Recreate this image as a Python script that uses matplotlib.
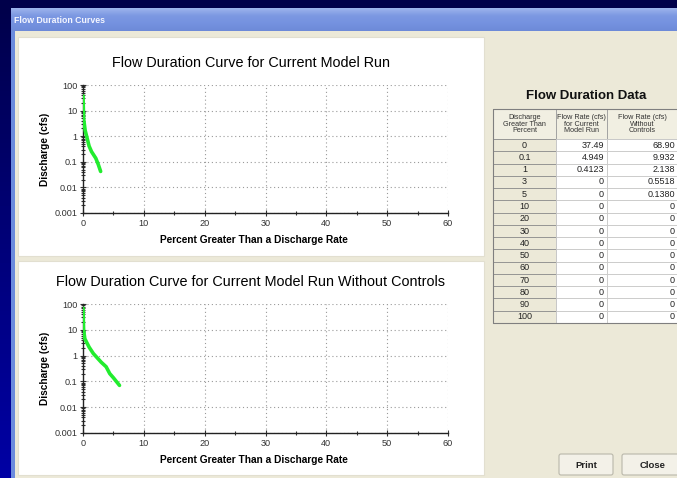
# flow duration curves window: two log-scale curves plus the data table

import numpy as np
import matplotlib.pyplot as plt
from matplotlib.patches import Rectangle, FancyBboxPatch
from matplotlib.colors import LinearSegmentedColormap
from matplotlib.ticker import FixedLocator, FuncFormatter, LogLocator, NullFormatter

plt.rcParams['font.family'] = ['Liberation Sans', 'DejaVu Sans']

# curve for the current model run
run_pct = [0, 0.1, 0.35, 1, 1.4, 2.1, 2.5, 2.9]
run_q = [37.49, 4.949, 1.7, 0.4123, 0.25, 0.138, 0.08, 0.042]

# curve for the run without controls
noctl_pct = [0, 0.1, 0.3, 1, 1.7, 3, 3.8, 4.4, 5, 6]
noctl_q = [68.90, 9.932, 4.5, 2.138, 1.2, 0.5518, 0.37, 0.2, 0.1380, 0.07]

# table contents
table_pct = ["0", "0.1", "1", "3", "5", "10", "20", "30", "40", "50",
             "60", "70", "80", "90", "100"]
table_run = [37.49, 4.949, 0.4123, 0, 0, 0, 0, 0, 0, 0, 0, 0, 0, 0, 0]
table_noctl = [68.90, 9.932, 2.138, 0.5518, 0.1380, 0, 0, 0, 0, 0, 0, 0, 0, 0, 0]
table_headers = ["Discharge\nGreater Than\nPercent",
                 "Flow Rate (cfs)\nfor Current\nModel Run",
                 "Flow Rate (cfs)\nWithout\nControls"]

W, H = 677, 478
BEIGE = "#ECE9D8"

fig = plt.figure(figsize=(W / 100, H / 100), dpi=100)

# full-figure canvas in pixel units for the window chrome
bg = fig.add_axes([0, 0, 1, 1])
bg.set_xlim(0, W)
bg.set_ylim(H, 0)
bg.axis("off")

navy = LinearSegmentedColormap.from_list("navy", ["#00004A", "#000078", "#0000A4"])
bg.imshow(np.linspace(0, 1, 100).reshape(-1, 1), cmap=navy, aspect="auto",
          extent=[0, W, H, 0], zorder=0)

# window frame and title bar
bg.add_patch(Rectangle((11, 8), W - 11, H - 8, facecolor="#6B8BDD", edgecolor="none", zorder=1))
bar = LinearSegmentedColormap.from_list("bar", ["#9DB4EC", "#7C98E2", "#7592E0", "#6D8AD8"])
bg.imshow(np.linspace(0, 1, 50).reshape(-1, 1), cmap=bar, aspect="auto",
          extent=[11, W, 31, 8], zorder=2)
bg.text(14, 20, "Flow Duration Curves", color="#F4F6FF", fontsize=6.3,
        fontweight="bold", va="center", ha="left", zorder=3)
bg.add_patch(Rectangle((15, 31), W - 15, H - 31, facecolor=BEIGE, edgecolor="none", zorder=2))

# white panels behind the two charts
for top, bottom in [(37, 256), (261, 475)]:
    bg.add_patch(Rectangle((18, top), 466, bottom - top, facecolor="white",
                           edgecolor="#E2DFD0", linewidth=0.8, zorder=3))


def fmt_val(v):
    return "0" if v == 0 else "%#.4g" % v


# data table
bg.text(586, 96, "Flow Duration Data", fontsize=9.5, fontweight="bold",
        ha="center", va="center", color="#111111", zorder=5)
col_x = [493, 556, 607, 681]
head_top, head_bot = 109, 139
row_h = (323 - head_bot) / len(table_pct)
for c in range(3):
    x0, x1 = col_x[c], col_x[c + 1]
    bg.add_patch(Rectangle((x0, head_top), x1 - x0, head_bot - head_top,
                           facecolor="#F1EFE2", edgecolor="#9D9D9D", linewidth=0.6, zorder=4))
    cx = (x0 + x1) / 2 if c < 2 else (x0 + W) / 2
    bg.text(cx, (head_top + head_bot) / 2, table_headers[c], fontsize=5.2,
            ha="center", va="center", linespacing=0.95, color="#333333", zorder=5)
for i, pct in enumerate(table_pct):
    y0 = head_bot + i * row_h
    ym = y0 + row_h / 2
    bg.add_patch(Rectangle((col_x[0], y0), col_x[1] - col_x[0], row_h,
                           facecolor=BEIGE, edgecolor="#8F8F8F", linewidth=0.6, zorder=4))
    bg.text((col_x[0] + col_x[1]) / 2, ym, pct, fontsize=6.5, ha="center",
            va="center", color="#222222", zorder=5)
    for c, vals in [(1, table_run), (2, table_noctl)]:
        x0, x1 = col_x[c], col_x[c + 1]
        bg.add_patch(Rectangle((x0, y0), x1 - x0, row_h, facecolor="white",
                               edgecolor="#C8C8C8", linewidth=0.6, zorder=4))
        right = x1 - 3 if c == 1 else W - 2
        bg.text(right, ym, fmt_val(vals[i]), fontsize=6.5, ha="right",
                va="center", color="#222222", zorder=5)
bg.add_patch(Rectangle((col_x[0], head_top), col_x[3] - col_x[0], 323 - head_top,
                       facecolor="none", edgecolor="#7F7F7F", linewidth=0.8, zorder=6))

# buttons
for label, x0, x1 in [("Print", 559, 613), ("Close", 622, 684)]:
    bg.add_patch(FancyBboxPatch((x0, 454), x1 - x0, 21, boxstyle="round,pad=0,rounding_size=2",
                                facecolor="#F3F1E8", edgecolor="#B9B7AA", linewidth=0.8, zorder=4))
    bg.text((x0 + x1) / 2, 465, label, fontsize=6.8, fontweight="bold",
            ha="center", va="center", color="#222222", zorder=5)


def add_chart(top, bottom, title, pct, q):
    ax = fig.add_axes([83 / W, 1 - bottom / H, (448 - 83) / W, (bottom - top) / H])
    ax.set_facecolor("white")
    ax.plot(pct, q, color="#22EC2E", linewidth=2.6, solid_capstyle="round", zorder=3)
    ax.set_yscale("log")
    ax.set_xlim(0, 60)
    ax.set_ylim(0.001, 100)
    ax.xaxis.set_major_locator(FixedLocator([0, 10, 20, 30, 40, 50, 60]))
    ax.xaxis.set_minor_locator(FixedLocator([5, 15, 25, 35, 45, 55]))
    ax.yaxis.set_major_locator(FixedLocator([0.001, 0.01, 0.1, 1, 10, 100]))
    ax.yaxis.set_minor_locator(LogLocator(base=10, subs=np.arange(2, 10)))
    ax.yaxis.set_major_formatter(FuncFormatter(lambda v, p: "%g" % v))
    ax.yaxis.set_minor_formatter(NullFormatter())
    ax.tick_params(which="both", direction="inout", labelsize=6.6, colors="#333333",
                   width=0.8, pad=2)
    ax.tick_params(which="major", length=4)
    ax.tick_params(which="minor", length=2.5)
    ax.grid(True, which="major", color="#9A9A9A", linestyle=(0, (1, 2.5)), linewidth=0.8)
    for side in ["top", "right"]:
        ax.spines[side].set_visible(False)
    for side in ["left", "bottom"]:
        ax.spines[side].set_linewidth(1.0)
        ax.spines[side].set_color("#222222")
    # titles are centred on the white panel rather than on the plot area
    ax.set_title(title, fontsize=10.4, pad=13, x=0.46)
    ax.set_xlabel("Percent Greater Than a Discharge Rate", fontsize=7.3,
                  fontweight="bold", labelpad=5)
    ax.xaxis.set_label_coords(0.468, -0.17)
    ax.set_ylabel("Discharge (cfs)", fontsize=7.3, fontweight="bold", labelpad=3)
    return ax


add_chart(85, 213, "Flow Duration Curve for Current Model Run", run_pct, run_q)
add_chart(304, 433, "Flow Duration Curve for Current Model Run Without Controls",
          noctl_pct, noctl_q)

fig.savefig("out.png", dpi=100)
